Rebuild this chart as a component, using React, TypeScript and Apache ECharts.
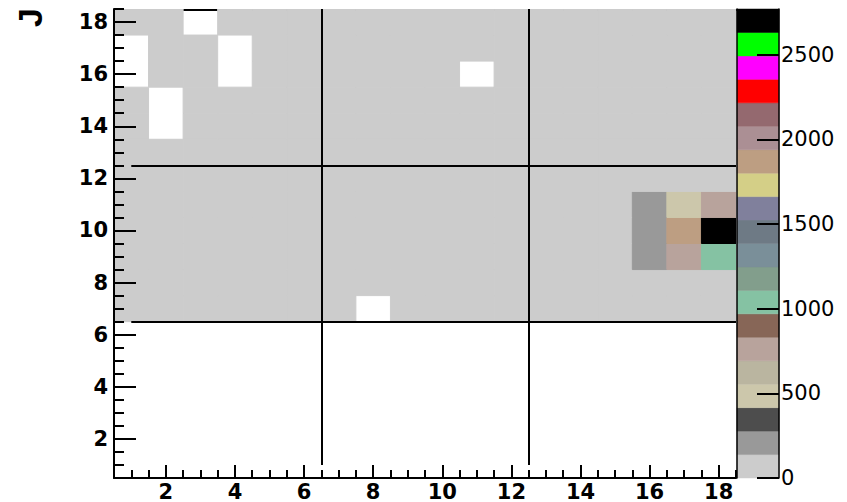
import React, { useEffect, useRef } from "react";
import * as echarts from "echarts";

// bin centres
const xBins = [1, 2, 3, 4, 5, 6, 7, 8, 9, 10, 11, 12, 13, 14, 15, 16, 17, 18];
const yBins = [7, 8, 9, 10, 11, 12, 13, 14, 15, 16, 17, 18];

// bin contents per row (x = 1..18); 0 = empty bin (not drawn)
const row07 = [94, 70, 88, 67, 54, 75, 90, 0, 78, 63, 97, 69, 85, 61, 72, 59, 81, 74];
const row08 = [58, 91, 76, 83, 66, 98, 64, 71, 87, 80, 62, 90, 57, 73, 79, 95, 67, 92];
const row09 = [75, 84, 62, 58, 97, 72, 81, 95, 66, 69, 93, 54, 68, 90, 86, 188, 760, 1040];
const row10 = [87, 67, 71, 94, 79, 60, 88, 56, 73, 91, 65, 77, 99, 84, 70, 232, 1870, 2770];
const row11 = [61, 78, 92, 70, 63, 85, 67, 74, 96, 58, 89, 82, 75, 66, 97, 205, 480, 790];
const row12 = [73, 96, 80, 65, 89, 57, 76, 92, 68, 84, 71, 63, 87, 79, 60, 74, 93, 69];
const row13 = [90, 63, 57, 86, 74, 68, 99, 81, 62, 77, 59, 95, 71, 64, 83, 78, 88, 66];
const row14 = [69, 0, 85, 77, 58, 91, 72, 64, 98, 56, 80, 73, 67, 88, 94, 62, 75, 83];
const row15 = [82, 0, 74, 61, 96, 78, 53, 89, 67, 71, 84, 60, 92, 76, 65, 87, 70, 79];
const row16 = [0, 79, 66, 0, 87, 62, 94, 70, 57, 83, 0, 75, 68, 99, 61, 72, 85, 58];
const row17 = [0, 71, 93, 0, 68, 84, 59, 97, 73, 65, 88, 76, 54, 91, 69, 80, 63, 86];
const row18 = [64, 88, 0, 72, 95, 51, 77, 83, 60, 92, 70, 58, 81, 66, 74, 90, 62, 55];
const rows = [row07, row08, row09, row10, row11, row12, row13, row14, row15, row16, row17, row18];

// ROOT-like palette, lowest to highest contour
const palette = [
  "#CCCCCC", "#999999", "#4D4D4D", "#CCC7AB", "#BAB5A0", "#B8A39C", "#876657",
  "#85C2A3", "#829E8C", "#7A8F99", "#6E7A85", "#80809C", "#D4CF87", "#BD9E82",
  "#AB8F94", "#94696F", "#FF0000", "#FF00FF", "#00FF00", "#000000",
];

// tick values
const majorTicks = [2, 4, 6, 8, 10, 12, 14, 16, 18];
const minorTicks = [1, 1.5, 2.5, 3, 3.5, 4.5, 5, 5.5, 6.5, 7, 7.5, 8.5, 9, 9.5, 10.5, 11, 11.5,
  12.5, 13, 13.5, 14.5, 15, 15.5, 16.5, 17, 17.5, 18.5];
const zTicks = [0, 500, 1000, 1500, 2000, 2500];

// separator lines (data coordinates)
const vLines = [6.5, 12.5];
const hLines = [6.5, 12.5];
const lineFrom = 1;
const lineTo = 18.5;

const AXIS_FONT = "DejaVu Sans";

export default function App() {
  const ref = useRef<HTMLDivElement>(null);

  useEffect(() => {
    if (!ref.current) return;
    const chart = echarts.init(ref.current, null, { renderer: "svg" });

    const cells: number[][] = [];
    rows.forEach((row, j) => {
      row.forEach((v, i) => {
        if (v > 0) cells.push([xBins[i], yBins[j], v]);
      });
    });
    const zMax = Math.max(...cells.map((c) => c[2]));
    const band = zMax / palette.length;
    const colorOf = (v: number) => palette[Math.min(palette.length - 1, Math.floor(v / band))];
    const barData = palette.map((_, i) => [0.5, i * band, (i + 1) * band, i]);

    const lineData = [
      ...vLines.map((x) => ({ coords: [[x, lineFrom], [x, lineTo]] })),
      ...hLines.map((y) => ({ coords: [[lineFrom, y], [lineTo, y]] })),
    ];

    const tickStyle = { color: "#000", width: 2 };
    const labelStyle = {
      fontFamily: AXIS_FONT,
      fontWeight: "bold" as const,
      fontSize: 21,
      color: "#000",
    };
    const plain = (v: number) => String(v);

    chart.setOption({
      animation: false,
      backgroundColor: "#fff",
      grid: [
        { left: 114, top: 9, width: 622, height: 469, show: false },
        { left: 737, top: 9, width: 42, height: 469, show: false },
      ],
      xAxis: [
        {
          type: "value", gridIndex: 0, min: 0.5, max: 18.5, z: 10,
          axisLine: { show: true, onZero: false, lineStyle: { color: "#000", width: 2 } },
          axisTick: { show: true, inside: true, length: 13, customValues: majorTicks, lineStyle: tickStyle },
          axisLabel: { show: true, customValues: majorTicks, margin: 3, formatter: plain, ...labelStyle },
          splitLine: { show: false },
        },
        {
          type: "value", gridIndex: 0, min: 0.5, max: 18.5, z: 10, position: "bottom",
          axisLine: { show: false, onZero: false },
          axisTick: { show: true, inside: true, length: 8, customValues: minorTicks, lineStyle: tickStyle },
          axisLabel: { show: false },
          splitLine: { show: false },
        },
        {
          type: "value", gridIndex: 1, min: 0, max: 1, show: false,
          axisLine: { onZero: false },
        },
        {
          type: "value", gridIndex: 0, min: 0.5, max: 18.5, z: 0, position: "top", offset: -1,
          axisLine: { show: true, onZero: false, lineStyle: { color: "#000", width: 2 } },
          axisTick: { show: false },
          axisLabel: { show: false },
          splitLine: { show: false },
        },
      ],
      yAxis: [
        {
          type: "value", gridIndex: 0, min: 0.5, max: 18.5, z: 10,
          axisLine: { show: true, onZero: false, lineStyle: { color: "#000", width: 2 } },
          axisTick: { show: true, inside: true, length: 22, customValues: majorTicks, lineStyle: tickStyle },
          axisLabel: { show: true, customValues: majorTicks, margin: 6, formatter: plain, ...labelStyle },
          splitLine: { show: false },
        },
        {
          type: "value", gridIndex: 0, min: 0.5, max: 18.5, z: 10, position: "left",
          axisLine: { show: false, onZero: false },
          axisTick: { show: true, inside: true, length: 10, customValues: minorTicks, lineStyle: tickStyle },
          axisLabel: { show: false },
          splitLine: { show: false },
        },
        {
          type: "value", gridIndex: 1, min: 0, max: zMax, position: "right", z: 10,
          axisLine: { show: true, onZero: false, lineStyle: { color: "#000", width: 1.5 } },
          axisTick: { show: true, inside: true, length: 22, customValues: zTicks, lineStyle: tickStyle },
          axisLabel: {
            show: true, customValues: zTicks, margin: 2, formatter: plain,
            fontFamily: AXIS_FONT, fontSize: 21, color: "#000",
          },
          splitLine: { show: false },
        },
        {
          type: "value", gridIndex: 1, min: 0, max: zMax, position: "left", z: 10,
          axisLine: { show: true, onZero: false, lineStyle: { color: "#000", width: 1.5 } },
          axisTick: { show: false },
          axisLabel: { show: false },
          splitLine: { show: false },
        },
      ],
      graphic: [
        {
          type: "text", x: 13, y: 27, rotation: Math.PI / 2, z: 20,
          style: {
            text: "J", fontFamily: "Liberation Sans", fontWeight: "bold", fontSize: 34,
            fill: "#000", textAlign: "left", textVerticalAlign: "top",
          },
        },
      ],
      series: [
        {
          type: "custom", xAxisIndex: 0, yAxisIndex: 0, z: 2, clip: true,
          data: cells,
          renderItem: (params: any, api: any) => {
            const x = api.value(0);
            const y = api.value(1);
            const v = api.value(2);
            const p1 = api.coord([x - 0.5, y + 0.5]);
            const p2 = api.coord([x + 0.5, y - 0.5]);
            return {
              type: "rect",
              shape: { x: p1[0], y: p1[1], width: p2[0] - p1[0], height: p2[1] - p1[1] },
              style: { fill: colorOf(v), stroke: colorOf(v), lineWidth: 1 },
            };
          },
        },
        {
          type: "lines", coordinateSystem: "cartesian2d", xAxisIndex: 0, yAxisIndex: 0,
          z: 5, silent: true,
          lineStyle: { color: "#000", width: 2, opacity: 1 },
          data: lineData,
        },
        {
          type: "custom", xAxisIndex: 2, yAxisIndex: 2, z: 2, clip: false,
          data: barData,
          renderItem: (params: any, api: any) => {
            const lo = api.value(1);
            const hi = api.value(2);
            const idx = api.value(3);
            const p1 = api.coord([0, hi]);
            const p2 = api.coord([1, lo]);
            return {
              type: "rect",
              shape: { x: p1[0], y: p1[1], width: p2[0] - p1[0], height: p2[1] - p1[1] },
              style: { fill: palette[idx], stroke: palette[idx], lineWidth: 0.5 },
            };
          },
        },
      ],
    });

    return () => chart.dispose();
  }, []);

  return (
    <div
      ref={ref}
      style={{ position: "fixed", left: 0, top: 0, width: 847, height: 502, background: "#fff" }}
    />
  );
}
